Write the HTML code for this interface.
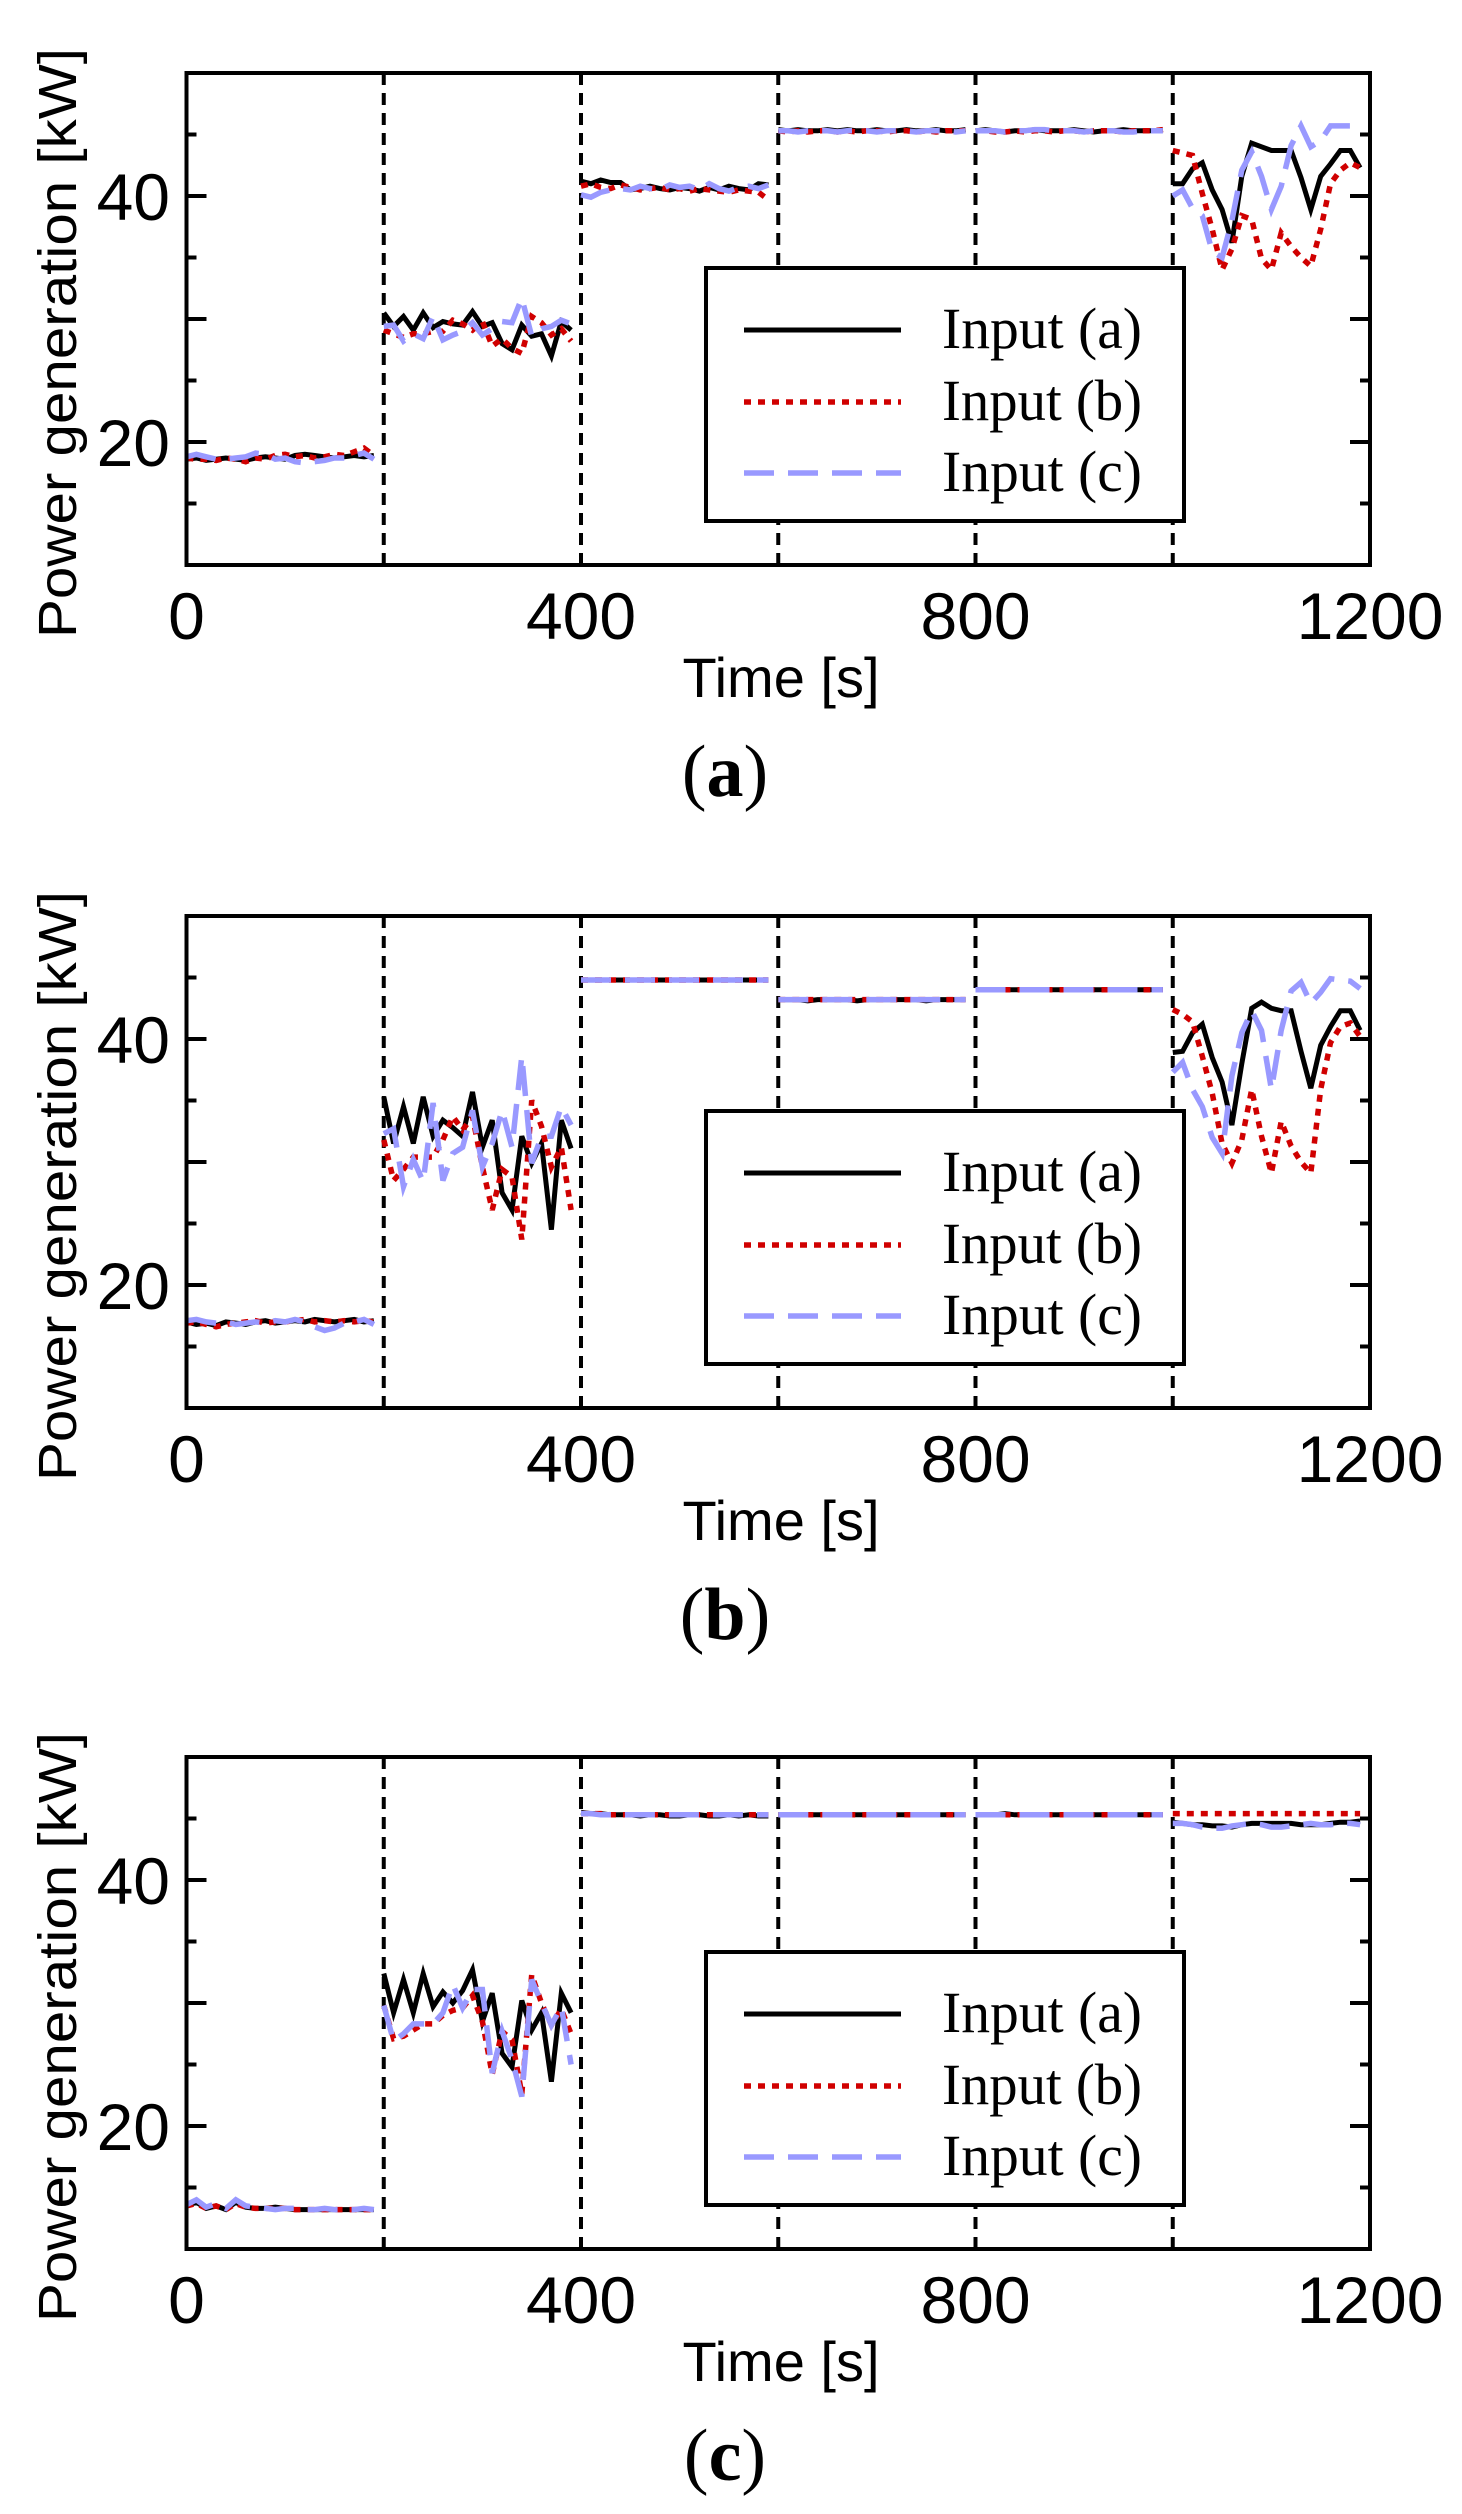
<!DOCTYPE html>
<html><head><meta charset="utf-8"><style>
html,body{margin:0;padding:0;background:#fff}
svg{display:block}
</style></head><body>
<svg id="fig" width="1462" height="2514" viewBox="0 0 1462 2514" xmlns="http://www.w3.org/2000/svg"></svg>
<script>
// ---- data (kW), sampled every 10 s, 6 segments x 20 points ----
const panelIds = ['a','b','c'];
const segStarts = [0,200,400,600,800,1000];
const xTicks = [0,400,800,1200];
const yTickLabels = [20,40];
const seriesNames = ['Input (a)','Input (b)','Input (c)'];

const aBlack = [18.6,18.7,18.5,18.6,18.7,18.6,18.5,18.7,18.8,18.7,18.6,18.9,19.0,18.9,18.8,18.7,18.8,18.9,18.8,18.9,
30.5,29.4,30.2,29.1,30.5,29.3,29.8,29.6,29.5,30.6,29.4,29.7,28.0,27.5,29.5,28.6,28.8,27.0,29.8,29.1,
41.2,41.0,41.3,41.1,41.1,40.5,40.6,40.8,40.6,40.5,40.7,40.6,40.4,40.7,40.5,40.8,40.6,40.5,41.0,40.9,
45.4,45.3,45.4,45.3,45.3,45.4,45.3,45.4,45.3,45.3,45.4,45.3,45.3,45.4,45.3,45.3,45.4,45.3,45.3,45.4,
45.3,45.4,45.3,45.2,45.3,45.3,45.4,45.3,45.3,45.3,45.4,45.3,45.2,45.3,45.3,45.4,45.3,45.3,45.3,45.4,
41.0,41.0,42.2,42.7,40.5,38.9,36.2,41.6,44.3,44.0,43.7,43.7,43.7,41.5,38.9,41.6,42.6,43.7,43.7,42.3];
const aRed = [18.7,18.6,18.6,18.5,18.7,18.6,18.4,18.7,18.6,18.9,19.0,18.8,18.9,18.7,18.8,19.0,18.9,19.2,19.5,18.9,
29.1,28.8,28.5,28.8,28.8,29.0,29.0,29.9,29.6,29.1,29.8,27.8,28.4,27.6,27.2,30.2,29.7,28.7,29.2,28.2,
40.8,41.0,40.7,40.6,40.9,40.7,40.5,40.6,40.7,40.5,40.6,40.4,40.6,40.5,40.4,40.3,40.5,40.4,40.3,39.7,
45.3,45.2,45.3,45.2,45.3,45.3,45.2,45.3,45.2,45.3,45.3,45.2,45.3,45.3,45.2,45.3,45.2,45.3,45.3,45.3,
45.3,45.3,45.2,45.2,45.3,45.2,45.3,45.3,45.2,45.3,45.3,45.2,45.3,45.3,45.3,45.2,45.3,45.3,45.3,45.4,
43.7,43.5,43.3,40.2,37.3,34.0,35.7,38.4,38.1,34.9,34.0,37.0,35.9,35.0,34.3,37.3,41.0,42.1,42.7,42.3];
const aBlue = [18.8,19.0,18.8,18.6,18.6,18.7,18.8,19.1,19.0,18.6,18.7,18.4,18.3,18.4,18.5,18.7,18.7,18.9,19.1,18.6,
29.4,29.5,28.2,28.8,28.4,30.2,28.3,28.7,29.0,29.7,28.7,29.2,29.8,29.7,31.7,28.6,29.2,29.4,29.9,29.6,
40.1,39.9,40.3,40.5,40.6,40.5,40.8,40.6,40.5,40.9,40.7,40.8,40.5,41.0,40.6,40.4,40.7,40.8,40.6,40.9,
45.3,45.3,45.2,45.3,45.3,45.3,45.2,45.3,45.3,45.3,45.2,45.3,45.3,45.3,45.2,45.3,45.3,45.3,45.2,45.3,
45.3,45.3,45.3,45.2,45.3,45.3,45.4,45.4,45.3,45.3,45.3,45.2,45.3,45.3,45.3,45.2,45.2,45.3,45.3,45.3,
40.0,40.5,39.0,38.4,35.5,35.0,38.0,42.1,43.6,41.6,38.9,40.8,44.1,45.7,44.0,44.5,45.7,45.7,45.7,45.0];

const bBlack = [17.0,16.8,16.9,16.7,17.0,16.9,16.8,17.0,17.1,16.9,17.0,17.1,17.0,17.2,17.1,17.0,17.1,17.2,17.0,17.1,
35.3,31.5,34.5,31.5,35.3,32.1,33.4,32.8,32.1,35.7,31.2,33.4,27.5,26.1,32.1,29.9,31.5,24.5,33.4,31.1,
44.8,44.8,44.8,44.8,44.8,44.8,44.8,44.8,44.8,44.8,44.8,44.8,44.8,44.8,44.8,44.8,44.8,44.8,44.8,44.8,
43.2,43.2,43.2,43.1,43.2,43.2,43.2,43.2,43.1,43.2,43.2,43.2,43.2,43.2,43.2,43.1,43.2,43.2,43.2,43.2,
44.0,44.0,44.0,44.0,44.0,44.0,44.0,44.0,44.0,44.0,44.0,44.0,44.0,44.0,44.0,44.0,44.0,44.0,44.0,44.0,
38.9,39.0,40.5,41.2,38.5,36.5,33.0,38.0,42.5,43.0,42.5,42.3,42.3,39.0,36.0,39.5,41.0,42.3,42.3,40.7];
const bRed = [16.9,17.0,16.8,16.6,16.8,16.9,17.0,17.1,16.9,17.0,17.0,17.1,17.2,17.0,17.1,17.0,17.1,17.0,17.1,17.0,
31.8,28.5,29.4,30.4,30.4,30.4,31.8,33.7,32.6,33.7,29.6,26.1,29.4,28.8,23.7,35.0,32.9,29.6,31.2,26.1,
44.8,44.8,44.8,44.8,44.8,44.8,44.8,44.8,44.8,44.8,44.8,44.8,44.8,44.8,44.8,44.8,44.8,44.8,44.8,44.8,
43.2,43.2,43.2,43.2,43.2,43.2,43.2,43.2,43.2,43.2,43.2,43.2,43.2,43.2,43.2,43.2,43.2,43.2,43.2,43.2,
44.0,44.0,44.0,44.0,44.0,44.0,44.0,44.0,44.0,44.0,44.0,44.0,44.0,44.0,44.0,44.0,44.0,44.0,44.0,44.0,
42.4,42.0,41.4,38.6,35.6,31.5,29.9,31.8,35.9,32.1,29.1,33.3,31.3,30.0,29.1,35.9,39.7,41.0,41.3,40.2];
const bBlue = [17.1,17.2,17.0,16.9,17.0,16.8,16.9,17.0,16.9,17.1,17.0,17.2,17.0,16.6,16.3,16.5,16.9,17.0,17.2,16.8,
32.3,32.7,28.0,30.2,28.4,34.8,28.5,30.7,31.2,34.2,29.6,31.5,34.2,31.2,38.6,29.9,32.1,32.1,34.5,33.0,
44.8,44.8,44.8,44.8,44.8,44.8,44.8,44.8,44.8,44.8,44.8,44.8,44.8,44.8,44.8,44.8,44.8,44.8,44.8,44.8,
43.2,43.2,43.2,43.2,43.2,43.2,43.2,43.2,43.2,43.2,43.2,43.2,43.2,43.2,43.2,43.2,43.2,43.2,43.2,43.2,
44.0,44.0,44.0,44.0,44.0,44.0,44.0,44.0,44.0,44.0,44.0,44.0,44.0,44.0,44.0,44.0,44.0,44.0,44.0,44.0,
37.3,38.1,35.9,34.5,32.0,30.7,37.0,40.5,42.3,40.7,35.9,40.7,43.9,44.6,42.9,43.8,44.9,44.8,44.7,44.1];

const cBlack = [13.5,13.8,13.3,13.5,13.2,13.8,13.4,13.3,13.3,13.4,13.3,13.2,13.2,13.2,13.2,13.2,13.2,13.2,13.2,13.2,
32.4,29.2,31.9,29.2,32.4,29.7,30.9,30.0,31.0,32.7,28.5,30.8,25.9,24.8,30.2,27.8,29.2,23.6,30.8,29.2,
45.5,45.4,45.4,45.3,45.3,45.3,45.2,45.3,45.3,45.2,45.2,45.3,45.3,45.2,45.2,45.3,45.2,45.3,45.2,45.2,
45.3,45.3,45.3,45.3,45.3,45.3,45.3,45.3,45.3,45.3,45.3,45.3,45.3,45.3,45.3,45.3,45.3,45.3,45.3,45.3,
45.3,45.3,45.3,45.4,45.3,45.3,45.3,45.3,45.3,45.3,45.3,45.3,45.3,45.3,45.3,45.3,45.3,45.3,45.3,45.3,
44.7,44.6,44.5,44.5,44.4,44.4,44.3,44.5,44.6,44.6,44.6,44.6,44.6,44.5,44.5,44.5,44.6,44.7,44.7,44.8];
const cRed = [13.5,13.7,13.3,13.5,13.2,13.7,13.4,13.3,13.3,13.3,13.3,13.2,13.2,13.2,13.2,13.2,13.2,13.2,13.2,13.2,
29.8,27.1,27.3,27.8,28.3,28.3,29.0,29.4,29.6,30.6,28.5,24.2,27.7,27.0,22.6,32.3,30.0,28.2,29.5,27.5,
45.4,45.4,45.4,45.3,45.3,45.3,45.3,45.3,45.3,45.3,45.3,45.3,45.3,45.3,45.3,45.3,45.3,45.3,45.3,45.3,
45.3,45.3,45.3,45.3,45.3,45.3,45.3,45.3,45.3,45.3,45.3,45.3,45.3,45.3,45.3,45.3,45.3,45.3,45.3,45.3,
45.3,45.3,45.3,45.3,45.3,45.3,45.3,45.3,45.3,45.3,45.3,45.3,45.3,45.3,45.3,45.3,45.3,45.3,45.3,45.3,
45.4,45.4,45.4,45.4,45.4,45.4,45.4,45.4,45.4,45.4,45.4,45.4,45.4,45.4,45.4,45.4,45.4,45.4,45.4,45.4];
const cBlue = [13.6,14.0,13.4,13.7,13.3,14.0,13.5,13.4,13.3,13.2,13.3,13.3,13.2,13.2,13.3,13.2,13.2,13.2,13.3,13.2,
29.8,26.9,27.5,28.3,28.3,28.3,29.2,31.5,29.6,31.1,31.1,24.3,27.7,25.4,22.4,31.9,30.0,28.2,29.7,25.0,
45.4,45.4,45.3,45.3,45.3,45.3,45.3,45.3,45.3,45.3,45.3,45.3,45.3,45.3,45.3,45.3,45.3,45.3,45.3,45.3,
45.3,45.3,45.3,45.3,45.3,45.3,45.3,45.3,45.3,45.3,45.3,45.3,45.3,45.3,45.3,45.3,45.3,45.3,45.3,45.3,
45.3,45.3,45.3,45.3,45.3,45.3,45.3,45.3,45.3,45.3,45.3,45.3,45.3,45.3,45.3,45.3,45.3,45.3,45.3,45.3,
44.6,44.6,44.5,44.3,44.2,44.2,44.4,44.5,44.6,44.5,44.3,44.3,44.4,44.5,44.6,44.5,44.5,44.6,44.6,44.5];

const panelSeries = [[aBlack,aRed,aBlue],[bBlack,bRed,bBlue],[cBlack,cRed,cBlue]];

// ---- layout ----
const NS = 'http://www.w3.org/2000/svg';
const svg = document.getElementById('fig');
const L = 186.5, R = 1370, T = 73, B = 565;
const X0 = 0, X1 = 1200, Y0 = 10, Y1 = 50;
const offsets = [0, 843, 1684];
const styles = [
  {stroke:'#000', w:5, dash:null},
  {stroke:'#d00000', w:5.5, dash:'7 7'},
  {stroke:'#9999ff', w:5.5, dash:'30 14'}
];
function xs(t){ return L + (t - X0) / (X1 - X0) * (R - L); }
function ys(v, off){ return off + B - (v - Y0) / (Y1 - Y0) * (B - T); }
function mk(tag, attrs, parent){
  const e = document.createElementNS(NS, tag);
  for (const k in attrs) e.setAttribute(k, attrs[k]);
  (parent || svg).appendChild(e);
  return e;
}

panelIds.forEach((pid, pi) => {
  const off = offsets[pi];
  const g = mk('g', {});
  
  

  for (let k = 1; k < segStarts.length; k++) {
    const x = xs(segStarts[k]);
    const d = mk('line', {x1:x, x2:x, y1:off+T, y2:off+B, stroke:'#000', 'stroke-width':4, 'stroke-dasharray':'12 8'}, g);
    
    
  }

  panelSeries[pi].forEach((vals, si) => {
    const st = styles[si];
    const sg = mk('g', {}, g);
    
    
    segStarts.forEach((s0, k) => {
      let pts = [];
      for (let j = 0; j < 20; j++) {
        const v = vals[k*20 + j];
        pts.push(xs(s0 + j*10).toFixed(1) + ',' + ys(v, off).toFixed(1));
      }
      const a = {points: pts.join(' '), fill:'none', stroke:st.stroke, 'stroke-width':st.w, 'stroke-linejoin':'miter'};
      if (st.dash) a['stroke-dasharray'] = st.dash;
      const pl = mk('polyline', a, sg);
      
      
    });
  });

  for (let v = 15; v < Y1; v += 5) {
    const y = ys(v, off);
    const len = (v % 10 === 0) ? 20 : 10;
    mk('line', {x1:L, x2:L+len, y1:y, y2:y, stroke:'#000', 'stroke-width':4}, g);
    mk('line', {x1:R, x2:R-len, y1:y, y2:y, stroke:'#000', 'stroke-width':4}, g);
  }

  const fr = mk('rect', {x:L, y:off+T, width:R-L, height:B-T, fill:'none', stroke:'#000', 'stroke-width':4}, g);
  
  

  xTicks.forEach(t => {
    const tx = mk('text', {x:xs(t), y:off+639, 'text-anchor':'middle', 'font-family':'Liberation Sans, sans-serif', 'font-size':66}, g);
    tx.textContent = t;
    
    
  });
  yTickLabels.forEach(v => {
    const tx = mk('text', {x:170, y:ys(v, off)+24, 'text-anchor':'end', 'font-family':'Liberation Sans, sans-serif', 'font-size':66}, g);
    tx.textContent = v;
    
    
  });
  const xt = mk('text', {x:781, y:off+697, 'text-anchor':'middle', 'font-family':'Liberation Sans, sans-serif', 'font-size':56}, g);
  xt.textContent = 'Time [s]';
  
  
  const yt = mk('text', {x:0, y:0, 'text-anchor':'middle', 'font-family':'Liberation Sans, sans-serif', 'font-size':54, transform:'translate(76,' + (off+343) + ') rotate(-90)', textLength:590, lengthAdjust:'spacingAndGlyphs'}, g);
  yt.textContent = 'Power generation [kW]';
  
  

  const lg = mk('g', {}, g);
  
  
  mk('rect', {x:706, y:off+268, width:478, height:253, fill:'#fff', stroke:'#000', 'stroke-width':4}, lg);
  const rowsY = [330, 402, 473];
  seriesNames.forEach((nm, si) => {
    const st = styles[si];
    const ent = mk('g', {}, lg);
    
    
    const a = {x1:744, x2:901, y1:off+rowsY[si], y2:off+rowsY[si], stroke:st.stroke, 'stroke-width':st.w};
    if (st.dash) a['stroke-dasharray'] = st.dash;
    mk('line', a, ent);
    const tx = mk('text', {x:942, y:off+rowsY[si]+18, 'font-family':'Liberation Serif, serif', 'font-size':58, textLength:200, lengthAdjust:'spacingAndGlyphs'}, ent);
    tx.textContent = nm;
  });

  const cap = mk('text', {x:725, y:off+796, 'text-anchor':'middle', 'font-family':'Liberation Serif, serif', 'font-size':74}, g);
  
  
  cap.appendChild(document.createTextNode('('));
  const bt = mk('tspan', {'font-weight':'bold'}, cap);
  bt.textContent = pid;
  cap.appendChild(document.createTextNode(')'));
});
</script>
</body></html>
